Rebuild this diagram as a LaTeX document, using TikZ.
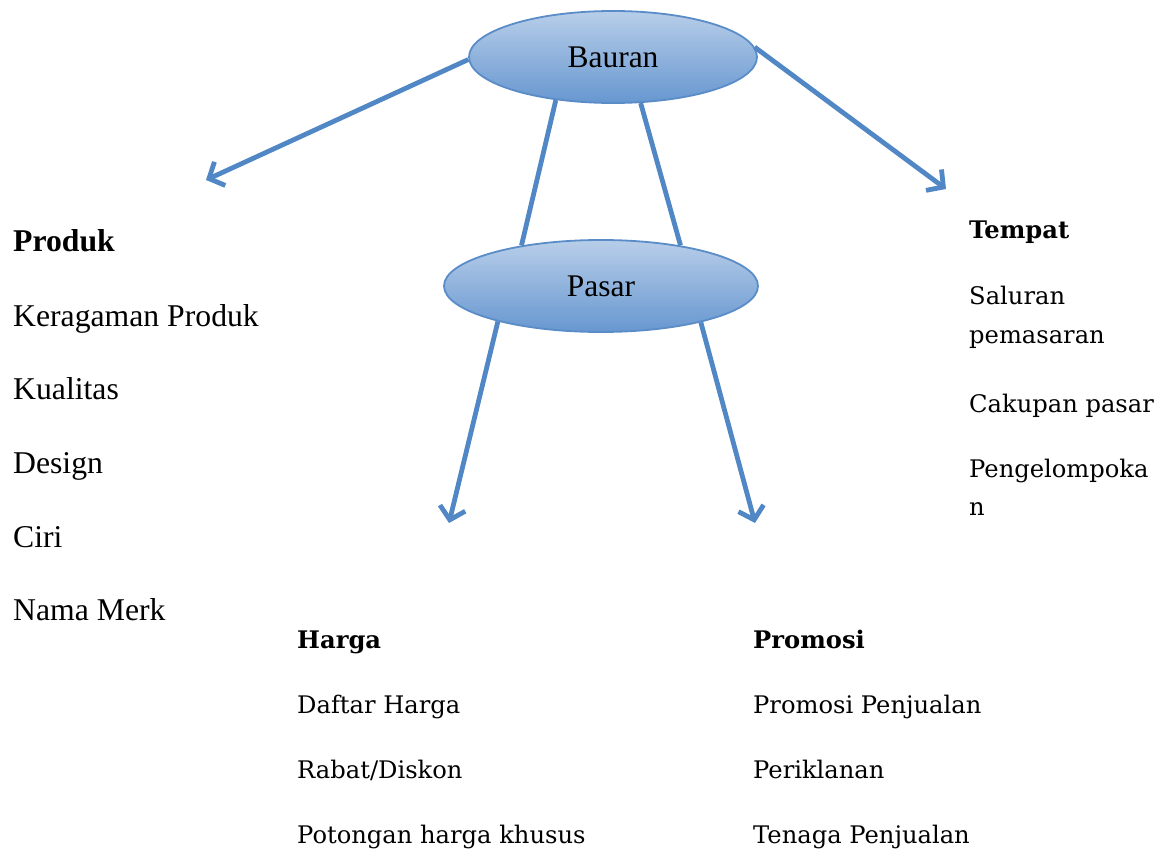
\documentclass[tikz,border=0pt]{standalone}
\usepackage{fontspec}
\setmainfont{Liberation Serif}
\newfontfamily\slabserif{DejaVu Serif}
\usetikzlibrary{arrows.meta,shapes.geometric}
\definecolor{lineblue}{HTML}{5087C4}
\definecolor{rimblue}{HTML}{5A8CC8}
\definecolor{topblue}{HTML}{B8CEE9}
\definecolor{lowblue}{HTML}{6797D0}
\begin{document}
\begin{tikzpicture}[x=1pt,y=-1pt,
  bubble/.style={ellipse, draw=rimblue, line width=1.8pt,
    top color=topblue, bottom color=lowblue, inner sep=0pt,
    font=\fontsize{31.5}{36}\selectfont},
  link/.style={draw=lineblue, line width=4.8pt},
  arrowlink/.style={link, -{Straight Barb[length=12pt,width=26pt]}},
  timesitem/.style={anchor=base west, inner sep=0pt, font=\fontsize{31.7}{36}\selectfont},
  timeshead/.style={timesitem, font=\fontsize{31.7}{36}\selectfont\bfseries},
  slabitem/.style={anchor=base west, inner sep=0pt, font=\slabserif\fontsize{24.2}{29}\selectfont},
  slabhead/.style={slabitem, font=\slabserif\fontsize{24.2}{29}\selectfont\bfseries}]
\useasboundingbox (0,0) rectangle (1173,853);

% the two ellipses
\node[bubble, minimum width=288pt, minimum height=92pt] (bauran) at (613,57) {Bauran};
\node[bubble, minimum width=314pt, minimum height=92pt] (pasar) at (601,286) {Pasar};

% free ends of the arrows
\coordinate (tipP) at (206,180);
\coordinate (tipT) at (946,189);
\coordinate (tipH) at (449,523);
\coordinate (tipR) at (755,523);

% connectors
\draw[arrowlink] (bauran.181) -- (tipP);
\draw[arrowlink] (bauran.4) -- (tipT);
\draw[link] (bauran.217) -- (pasar.153);
\draw[link] (bauran.301) -- (pasar.27);
\draw[arrowlink] (pasar.199) -- (tipH);
\draw[arrowlink] (pasar.340) -- (tipR);

% Produk column
\node[timeshead] (produk) at (13,252) {Produk};
\node[timesitem] (p1) at (13,326) {Keragaman Produk};
\node[timesitem] (p2) at (13,399) {Kualitas};
\node[timesitem] (p3) at (13,473) {Design};
\node[timesitem] (p4) at (13,547) {Ciri};
\node[timesitem] (p5) at (13,620) {Nama Merk};

% Harga column
\node[slabhead] (harga) at (297,648) {Harga};
\node[slabitem] (h1) at (297,713) {Daftar Harga};
\node[slabitem] (h2) at (297,778) {Rabat/Diskon};
\node[slabitem] (h3) at (297,843) {Potongan harga khusus};

% Promosi column
\node[slabhead] (promosi) at (753,648) {Promosi};
\node[slabitem] (r1) at (753,713) {Promosi Penjualan};
\node[slabitem] (r2) at (753,778) {Periklanan};
\node[slabitem] (r3) at (753,843) {Tenaga Penjualan};

% Tempat column
\node[slabhead] (tempat) at (969,239) {Tempat};
\node[slabitem] (t1) at (969,304) {Saluran};
\node[slabitem] (t2) at (969,343) {pemasaran};
\node[slabitem] (t3) at (969,412) {Cakupan pasar};
\node[slabitem] (t4) at (969,477) {Pengelompoka};
\node[slabitem] (t5) at (969,515) {n};
\end{tikzpicture}
\end{document}
